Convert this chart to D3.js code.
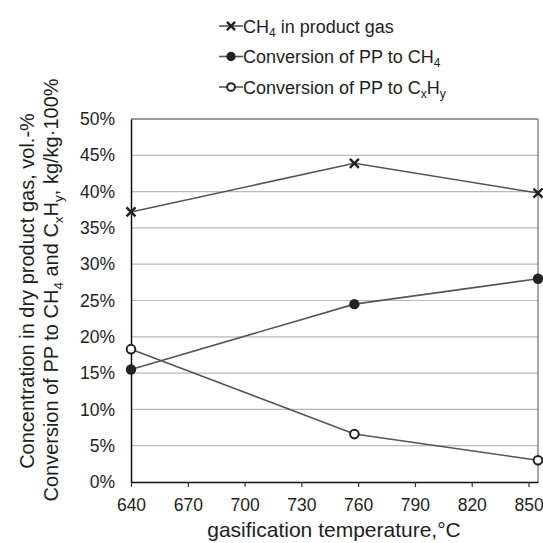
<!DOCTYPE html>
<html>
<head>
<meta charset="utf-8">
<script src="https://cdn.jsdelivr.net/npm/d3@7"></script>
<style>
  html, body { margin: 0; padding: 0; background: #fff; }
  svg { display: block; font-family: "Liberation Sans", Arial, sans-serif; }
</style>
</head>
<body>
<svg id="chart" width="543" height="543"></svg>
<script>
// gasification temperature, °C
const temperatures = [640, 758, 855];
// CH4 in product gas, %
const ch4Gas = [37.2, 43.9, 39.8];
// conversion of PP to CH4, %
const convCH4 = [15.5, 24.5, 28.0];
// conversion of PP to CxHy, %
const convCxHy = [18.3, 6.6, 3.0];

const xTicks = [640, 670, 700, 730, 760, 790, 820, 850];
const yTicks = [0, 5, 10, 15, 20, 25, 30, 35, 40, 45, 50];

const svg = d3.select("#chart");
const m = { left: 131, right: 538, top: 119, bottom: 482 };

const x = d3.scaleLinear().domain([640, 855]).range([m.left, m.right]);
const y = d3.scaleLinear().domain([0, 50]).range([m.bottom, m.top]);

const textColor = "#1e1e1e";
const lineColor = "#555";
const markColor = "#222";

// writes text with subscripts: parts are [string, isSub]
function richText(sel, parts, subSize, shift) {
  let lowered = false;
  parts.forEach(([str, sub]) => {
    const t = sel.append("tspan").text(str);
    if (sub && !lowered) { t.attr("dy", shift).style("font-size", subSize); lowered = true; }
    else if (sub) { t.style("font-size", subSize); }
    else if (!sub && lowered) { t.attr("dy", -shift); lowered = false; }
  });
}

// horizontal gridlines
svg.append("g")
  .selectAll("line")
  .data(yTicks.filter(d => d > 0 && d < 50))
  .join("line")
  .attr("x1", m.left).attr("x2", m.right)
  .attr("y1", d => y(d)).attr("y2", d => y(d))
  .attr("stroke", "#b8b8b8").attr("stroke-width", 1.2);

// plot frame: top and right in grey
svg.append("line").attr("x1", m.left).attr("x2", m.right).attr("y1", m.top).attr("y2", m.top)
  .attr("stroke", "#7a7a7a").attr("stroke-width", 1.3);
svg.append("line").attr("x1", m.right).attr("x2", m.right).attr("y1", m.top).attr("y2", m.bottom)
  .attr("stroke", "#7a7a7a").attr("stroke-width", 1.3);

// x axis
const xAxis = svg.append("g")
  .attr("transform", `translate(0,${m.bottom})`)
  .call(d3.axisBottom(x).tickValues(xTicks).tickSize(5).tickPadding(12).tickSizeOuter(0));
xAxis.select(".domain").attr("stroke", "#111").attr("stroke-width", 1.5);
xAxis.selectAll(".tick line").attr("stroke", "#333").attr("stroke-width", 1.2);
xAxis.selectAll(".tick text").attr("fill", textColor)
  .style("font-size", "17.5px").style("font-family", "Liberation Sans, Arial, sans-serif");

// y axis
const yAxis = svg.append("g")
  .attr("transform", `translate(${m.left},0)`)
  .call(d3.axisLeft(y).tickValues(yTicks).tickSize(0).tickPadding(16).tickSizeOuter(0)
    .tickFormat(d => d + "%"));
yAxis.select(".domain").attr("stroke", "#111").attr("stroke-width", 1.5);
yAxis.selectAll(".tick text").attr("fill", textColor)
  .style("font-size", "17.5px").style("font-family", "Liberation Sans, Arial, sans-serif");

const series = [
  { key: "gas", values: ch4Gas, marker: "cross" },
  { key: "ch4", values: convCH4, marker: "dot" },
  { key: "cxhy", values: convCxHy, marker: "ring" }
];

const line = d3.line().x(d => x(d[0])).y(d => y(d[1]));

function drawMarker(g, type, cx, cy, k = 1) {
  if (type === "cross") {
    const s = 4.5 * k;
    g.append("path")
      .attr("d", `M${cx - s},${cy - s}L${cx + s},${cy + s}M${cx - s},${cy + s}L${cx + s},${cy - s}`)
      .attr("stroke", markColor).attr("stroke-width", 2.4).attr("fill", "none");
  } else if (type === "dot") {
    g.append("circle").attr("cx", cx).attr("cy", cy).attr("r", 5.2 * k).attr("fill", markColor);
  } else {
    g.append("circle").attr("cx", cx).attr("cy", cy).attr("r", 4.3 * k)
      .attr("fill", "#fff").attr("stroke", markColor).attr("stroke-width", 2);
  }
}

series.forEach(s => {
  const pts = temperatures.map((t, i) => [t, s.values[i]]);
  const g = svg.append("g");
  g.append("path").datum(pts).attr("d", line)
    .attr("fill", "none").attr("stroke", lineColor).attr("stroke-width", 1.6);
  pts.forEach(p => drawMarker(g, s.marker, x(p[0]), y(p[1])));
});

// legend
const legendItems = [
  { marker: "cross", parts: [["CH", false], ["4", true], [" in product gas", false]] },
  { marker: "dot", parts: [["Conversion of PP to CH", false], ["4", true]] },
  { marker: "ring", parts: [["Conversion of PP to C", false], ["x", true], ["H", false], ["y", true]] }
];
const legendX = 219, legendY0 = 26, legendStep = 30.5;
legendItems.forEach((it, i) => {
  const g = svg.append("g");
  const ly = legendY0 + i * legendStep;
  g.append("line").attr("x1", legendX).attr("x2", legendX + 24).attr("y1", ly).attr("y2", ly)
    .attr("stroke", lineColor).attr("stroke-width", 1.6);
  drawMarker(g, it.marker, legendX + 12, ly, 0.9);
  const t = g.append("text").attr("x", legendX + 24).attr("y", ly + 6.5)
    .attr("fill", textColor).style("font-size", "18px");
  richText(t, it.parts, "12px", 4);
});

// x axis title
svg.append("text")
  .attr("x", 334).attr("y", 537)
  .attr("text-anchor", "middle").attr("fill", textColor)
  .style("font-size", "21px")
  .text("gasification temperature,\u00B0C");

// y axis titles (two lines, rotated)
svg.append("text")
  .attr("transform", "translate(34,291) rotate(-90)")
  .attr("text-anchor", "middle").attr("fill", textColor)
  .style("font-size", "20px")
  .text("Concentration in dry product gas, vol.-%");

const yt2 = svg.append("text")
  .attr("transform", "translate(58,290) rotate(-90)")
  .attr("text-anchor", "middle").attr("fill", textColor)
  .style("font-size", "20px");
richText(yt2, [["Conversion of PP to CH", false], ["4", true], [" and C", false], ["x", true],
  ["H", false], ["y", true], [", kg/kg\u00B7100%", false]], "13.5px", 4.5);
</script>
</body>
</html>
